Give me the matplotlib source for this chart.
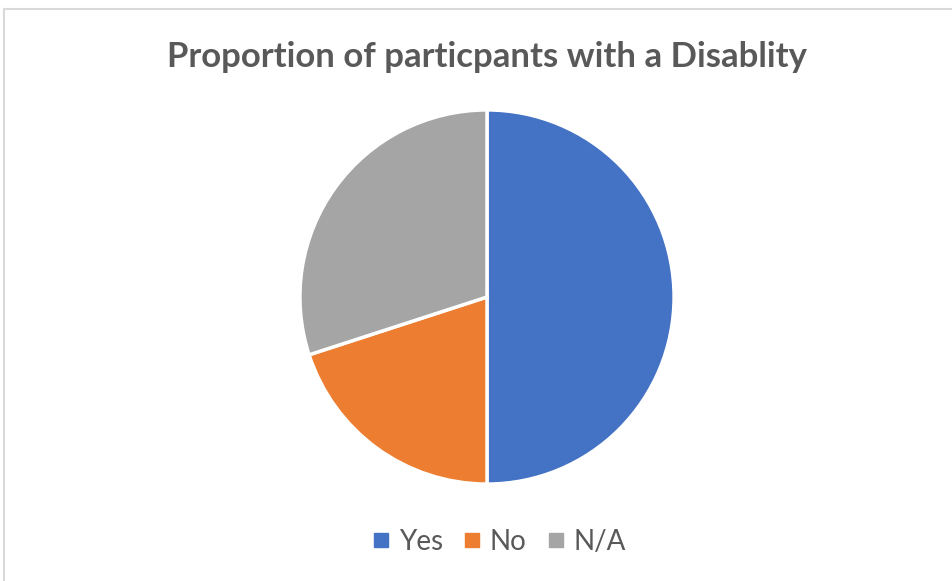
import matplotlib.pyplot as plt
from matplotlib.lines import Line2D

labels = ["Yes", "No", "N/A"]
counts = [5, 2, 3]
colors = ["#4472C4", "#ED7D31", "#A5A5A5"]

W, H = 953, 581
fig = plt.figure(figsize=(W / 100, H / 100), dpi=100)
plt.rcParams["font.family"] = ["Lato", "DejaVu Sans"]

# chart frame (top and left edges visible)
fig.add_artist(Line2D([4 / W, 4 / W], [0, 1 - 9 / H], color="#D9D9D9", lw=1.5))
fig.add_artist(Line2D([4 / W, 1], [1 - 9 / H, 1 - 9 / H], color="#D9D9D9", lw=1.5))

cx, cy, r = 487, 297, 188
ax = fig.add_axes([(cx - r) / W, 1 - (cy + r) / H, 2 * r / W, 2 * r / H])
wedges, _ = ax.pie(counts, colors=colors, startangle=90, counterclock=False,
                   wedgeprops=dict(edgecolor="white", linewidth=2.5))
ax.set_xlim(-1.005, 1.005)
ax.set_ylim(-1.005, 1.005)
ax.set_aspect("equal")

fig.text(487 / W, 1 - 57 / H, "Proportion of particpants with a Disablity",
         ha="center", va="center", fontsize=25, fontweight="bold", color="#595959")

# square swatches like the office-style legend
handles = [Line2D([], [], marker="s", linestyle="", markersize=9.5, color=c) for c in colors]
leg = fig.legend(handles, labels, loc="center", bbox_to_anchor=(500 / W, 1 - 542 / H),
                 ncol=3, frameon=False, fontsize=20, handlelength=0.5,
                 handletextpad=0.4, columnspacing=0.8)
for t in leg.get_texts():
    t.set_color("#595959")

fig.savefig("out.png", dpi=100)
